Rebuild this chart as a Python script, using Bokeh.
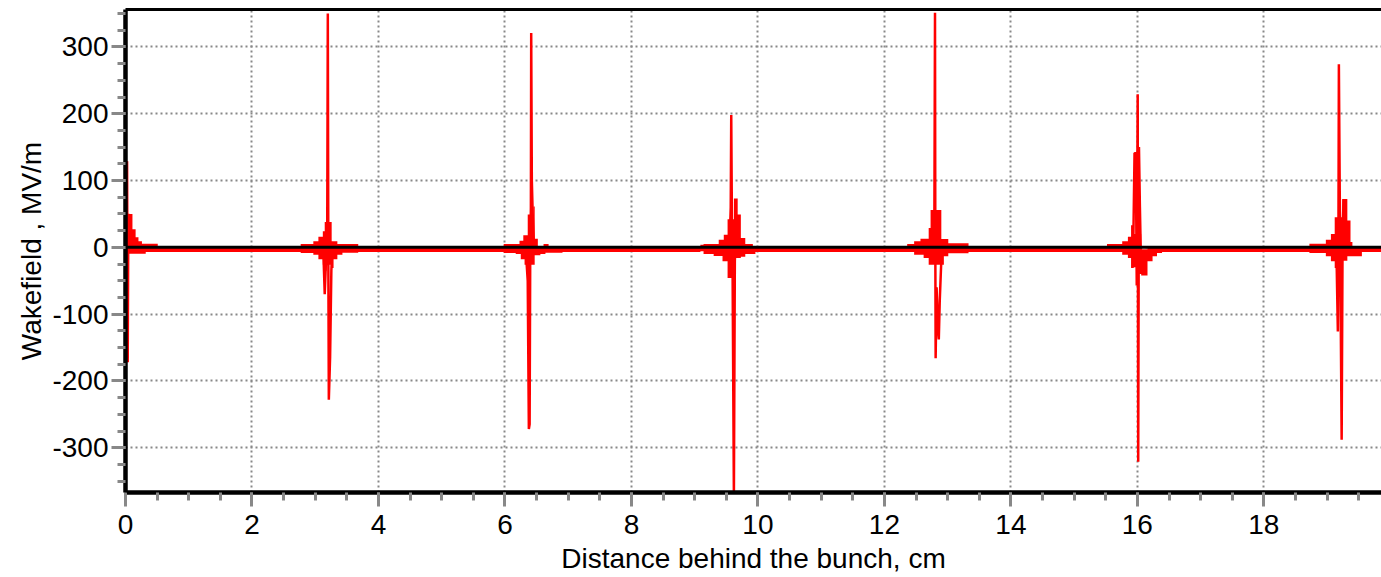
from bokeh.plotting import figure
from bokeh.models import SingleIntervalTicker, FixedTicker, LinearAxis, Span, Range1d
from bokeh.embed import file_html
from bokeh.resources import INLINE

# ---------------- data ----------------
x_label = "Distance behind the bunch, cm"
y_label = "Wakefield , MV/m"
y_tick_text = {-300: "-300", -200: "-200", -100: "-100"}

# envelope of the dense oscillation (step-after): x, upper, lower  [MV/m]
env_x = [0.00, 0.03, 0.11, 0.16, 0.205, 0.26, 0.32, 0.51,
         2.77, 2.97, 3.05, 3.12, 3.15, 3.18, 3.26, 3.29, 3.35, 3.43, 3.68,
         5.98, 6.17, 6.23, 6.25, 6.29, 6.31, 6.36, 6.40, 6.45, 6.47, 6.52, 6.56, 6.61, 6.64, 6.69, 6.91,
         9.09, 9.14, 9.30, 9.38, 9.44, 9.46, 9.52, 9.62, 9.68, 9.73, 9.80, 9.92, 9.96,
         12.36, 12.47, 12.57, 12.62, 12.70, 12.73, 12.90, 12.94, 13.01, 13.33,
         15.52, 15.76, 15.85, 15.90, 15.94, 16.06, 16.16, 16.24, 16.31, 16.39,
         18.72, 18.98, 19.06, 19.12, 19.24, 19.32, 19.37, 19.40, 19.55, 19.90]
env_hi = [1, 50, 27, 15, 9, 5.5, 5.5, 1,
          5, 9, 16, 24, 38, 38, 9, 9, 5, 5, 1,
          5, 5, 10, 10, 18, 18, 49, 49, 61, 13, 1, 1, 5, 5, 1, 1,
          4, 5, 5, 11.5, 11.5, 19, 42, 73, 49, 14, 5, 1, 1,
          5, 9, 13, 13, 29, 56, 12.5, 12.5, 6, 1,
          5, 9, 16, 33, 20, -3, 0, 0, 0, 1,
          5.5, 11.5, 20, 45, 72.5, 40, 8, 1, 1, 1]
env_lo = [-7, -9.5, -9.5, -9.5, -9.5, -9.5, -7, -7,
          -8.5, -11, -18, -26, -35, -26, -31, -18, -11, -8, -7,
          -8.5, -10, -10, -18, -18, -26, -51, -26, -26, -12, -12, -10, -10, -8, -8, -7,
          -6, -10, -13, -13, -21, -21, -46, -16, -16, -14, -10, -10, -7,
          -7, -11, -11, -16, -26, -26, -26, -13.5, -9, -7,
          -7, -11, -16, -31, -30, -42, -21, -13.5, -8.5, -7,
          -8.5, -13.5, -21, -31, -20, -13.5, -13.5, -13.5, -7, -7]

# sharp needles of each wake burst
spike0_x = [0.0, 0.025, 0.035, 0.045, 0.06]
spike0_y = [0, 129, -172, 50, 20]
spike1_x = [3.13, 3.15, 3.17, 3.19, 3.199, 3.207, 3.215, 3.235, 3.255, 3.27]
spike1_y = [-10, -70, -20, 38, 350, -10, -228, -165, -35, 0]
spike2_x = [6.34, 6.36, 6.378, 6.39, 6.40, 6.41, 6.415, 6.425, 6.44, 6.46]
spike2_y = [-20, -50, -272, -265, 0, 60, 321, 100, 45, 0]
spike3_x = [9.55, 9.57, 9.578, 9.59, 9.60, 9.62, 9.635, 9.65]
spike3_y = [0, 60, 198, 20, -46, -372, -20, 10]
spike4_x = [12.77, 12.79, 12.80, 12.805, 12.81, 12.825, 12.845, 12.86, 12.875, 12.895, 12.91]
spike4_y = [0, 40, 351, 0, -166, -60, -120, -138, -80, -31, 0]
spike5_x = [15.93, 15.955, 15.975, 15.99, 16.005, 16.013, 16.025, 16.04, 16.06]
spike5_y = [-30, 141, 141, -57, 229, -321, 150, 60, -40]
spike6_x = [19.15, 19.17, 19.18, 19.186, 19.20, 19.215, 19.23, 19.245, 19.26, 19.28]
spike6_y = [-20, -126, 50, 274, 80, -100, -288, 20, 72, 40]

# ---------------- figure ----------------
FONT = "Liberation Sans"
RED = "#ff0000"
GRAY = "#888888"

p = figure(width=1381, height=577, output_backend="svg", toolbar_location=None,
           x_range=Range1d(0, 19.86), y_range=Range1d(-367, 356),
           min_border_left=125, min_border_right=0, min_border_top=9, min_border_bottom=85)
p.outline_line_color = None
p.background_fill_color = "white"
p.border_fill_color = "white"

p.varea_step(x=env_x, y1=env_lo, y2=env_hi, step_mode="after", fill_color=RED)
for sx, sy in [(spike0_x, spike0_y), (spike1_x, spike1_y), (spike2_x, spike2_y),
               (spike3_x, spike3_y), (spike4_x, spike4_y), (spike5_x, spike5_y),
               (spike6_x, spike6_y)]:
    p.line(sx, sy, line_color=RED, line_width=2.5)

p.add_layout(Span(location=0, dimension="width", line_color="black", line_width=3))

# axes
p.xaxis.ticker = SingleIntervalTicker(interval=2, num_minor_ticks=4)
p.yaxis.ticker = SingleIntervalTicker(interval=100, num_minor_ticks=4)
for ax in (p.xaxis[0], p.yaxis[0]):
    ax.axis_line_color = "black"
    ax.axis_line_width = 4.5
    ax.major_tick_line_color = GRAY
    ax.minor_tick_line_color = GRAY
    ax.major_tick_line_width = 3
    ax.minor_tick_line_width = 3
    ax.major_tick_in = 0
    ax.minor_tick_in = 0
    ax.major_tick_out = 14
    ax.minor_tick_out = 8
    ax.major_label_text_font = FONT
    ax.major_label_text_font_size = "28px"
    ax.major_label_text_color = "black"
    ax.axis_label_text_font = FONT
    ax.axis_label_text_font_size = "28px"
    ax.axis_label_text_font_style = "normal"
    ax.axis_label_text_color = "black"
p.yaxis.major_label_overrides = y_tick_text
p.xaxis.axis_label = x_label
p.yaxis.axis_label = y_label
p.xaxis.major_label_standoff = 8
p.yaxis.major_label_standoff = 3
p.xaxis.axis_label_standoff = 6
p.yaxis.axis_label_standoff = 2

top = LinearAxis(ticker=FixedTicker(ticks=[]), axis_line_color="black", axis_line_width=3,
                 major_tick_line_color=None, minor_tick_line_color=None,
                 major_label_standoff=0, major_tick_out=0, minor_tick_out=0)
p.add_layout(top, "above")

# grid
for g in (p.xgrid[0], p.ygrid[0]):
    g.grid_line_color = GRAY
    g.grid_line_dash = "2 3"
    g.grid_line_width = 2

open("out.html", "w").write(file_html(p, INLINE))
